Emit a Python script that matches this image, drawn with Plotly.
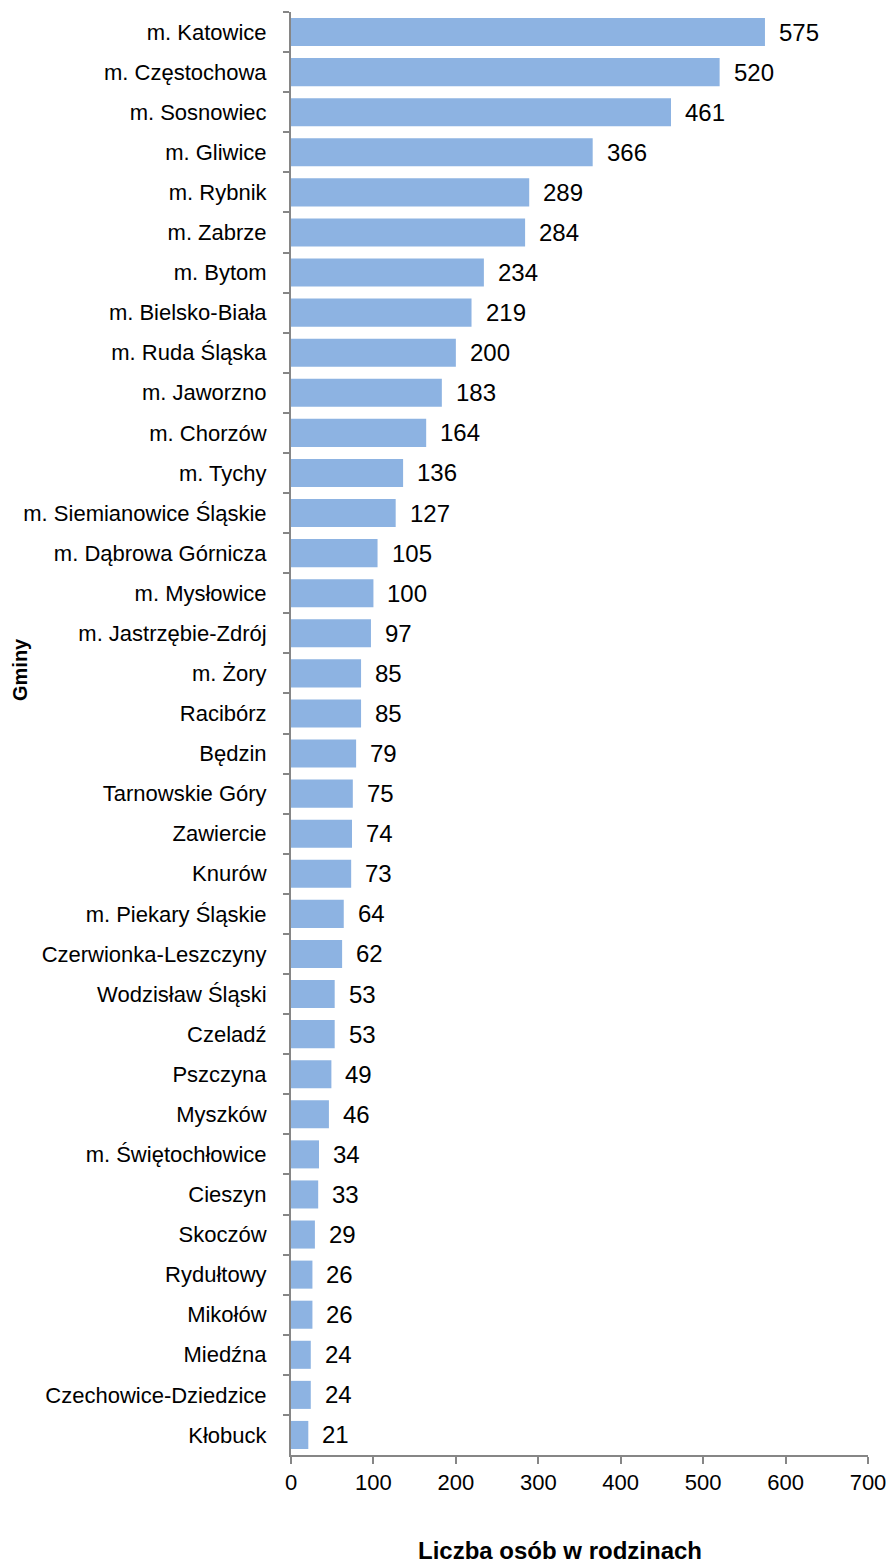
import plotly.graph_objects as go

gminy = ["m. Katowice", "m. Częstochowa", "m. Sosnowiec", "m. Gliwice", "m. Rybnik",
         "m. Zabrze", "m. Bytom", "m. Bielsko-Biała", "m. Ruda Śląska", "m. Jaworzno",
         "m. Chorzów", "m. Tychy", "m. Siemianowice Śląskie", "m. Dąbrowa Górnicza",
         "m. Mysłowice", "m. Jastrzębie-Zdrój", "m. Żory", "Racibórz", "Będzin",
         "Tarnowskie Góry", "Zawiercie", "Knurów", "m. Piekary Śląskie",
         "Czerwionka-Leszczyny", "Wodzisław Śląski", "Czeladź", "Pszczyna", "Myszków",
         "m. Świętochłowice", "Cieszyn", "Skoczów", "Rydułtowy", "Mikołów", "Miedźna",
         "Czechowice-Dziedzice", "Kłobuck"]
liczba = [575, 520, 461, 366, 289, 284, 234, 219, 200, 183, 164, 136, 127, 105, 100, 97,
          85, 85, 79, 75, 74, 73, 64, 62, 53, 53, 49, 46, 34, 33, 29, 26, 26, 24, 24, 21]
x_ticks = [0, 100, 200, 300, 400, 500, 600, 700]

FONT = "Liberation Sans, Arial, sans-serif"
AXIS_COLOR = "#868686"

fig = go.Figure()
fig.add_trace(go.Bar(
    x=liczba, y=gminy, orientation="h",
    marker=dict(color="#8DB3E2", line=dict(width=0)),
    hoverinfo="x+y",
))

annotations = [
    dict(x=v, y=g, xref="x", yref="y", text=str(v), showarrow=False,
         xanchor="left", yanchor="middle", xshift=12,
         font=dict(family=FONT, size=24, color="#000000"))
    for g, v in zip(gminy, liczba)
]
annotations.append(dict(x=0.0, xref="paper", xshift=-271, y=0.544, yref="paper",
                        text="<b>Gminy</b>", textangle=-90, showarrow=False,
                        xanchor="center", yanchor="middle",
                        font=dict(family=FONT, size=20, color="#000000")))
annotations.append(dict(x=0.466, xref="paper", y=0, yref="paper", yshift=-95,
                        text="<b>Liczba osób w rodzinach</b>", showarrow=False,
                        xanchor="center", yanchor="middle",
                        font=dict(family=FONT, size=24, color="#000000")))

fig.update_layout(
    width=892, height=1563,
    margin=dict(l=291, r=24, t=12, b=108),
    paper_bgcolor="white", plot_bgcolor="white",
    bargap=0.3,
    showlegend=False,
    annotations=annotations,
    font=dict(family=FONT, color="#000000"),
)
fig.update_xaxes(
    range=[0, 700], tickvals=x_ticks, ticktext=[str(t) for t in x_ticks],
    automargin=False, ticklabeloverflow="allow",
    showgrid=False, zeroline=False,
    showline=True, linecolor=AXIS_COLOR, linewidth=2,
    ticks="outside", ticklen=7, tickwidth=2, tickcolor=AXIS_COLOR,
    tickfont=dict(family=FONT, size=22, color="#000000"),
)
fig.update_yaxes(
    type="category", categoryorder="array", categoryarray=gminy,
    autorange="reversed", automargin=False,
    showgrid=False, zeroline=False,
    showline=True, linecolor=AXIS_COLOR, linewidth=2,
    ticks="outside", ticklen=6, tickwidth=2, tickcolor=AXIS_COLOR,
    tickson="boundaries", ticklabelstandoff=18,
    tickfont=dict(family=FONT, size=22, color="#000000"),
)

fig.write_html("out.html",
               config={"displayModeBar": False},
               post_script="document.body.style.margin='0';document.body.style.overflow='hidden';")
